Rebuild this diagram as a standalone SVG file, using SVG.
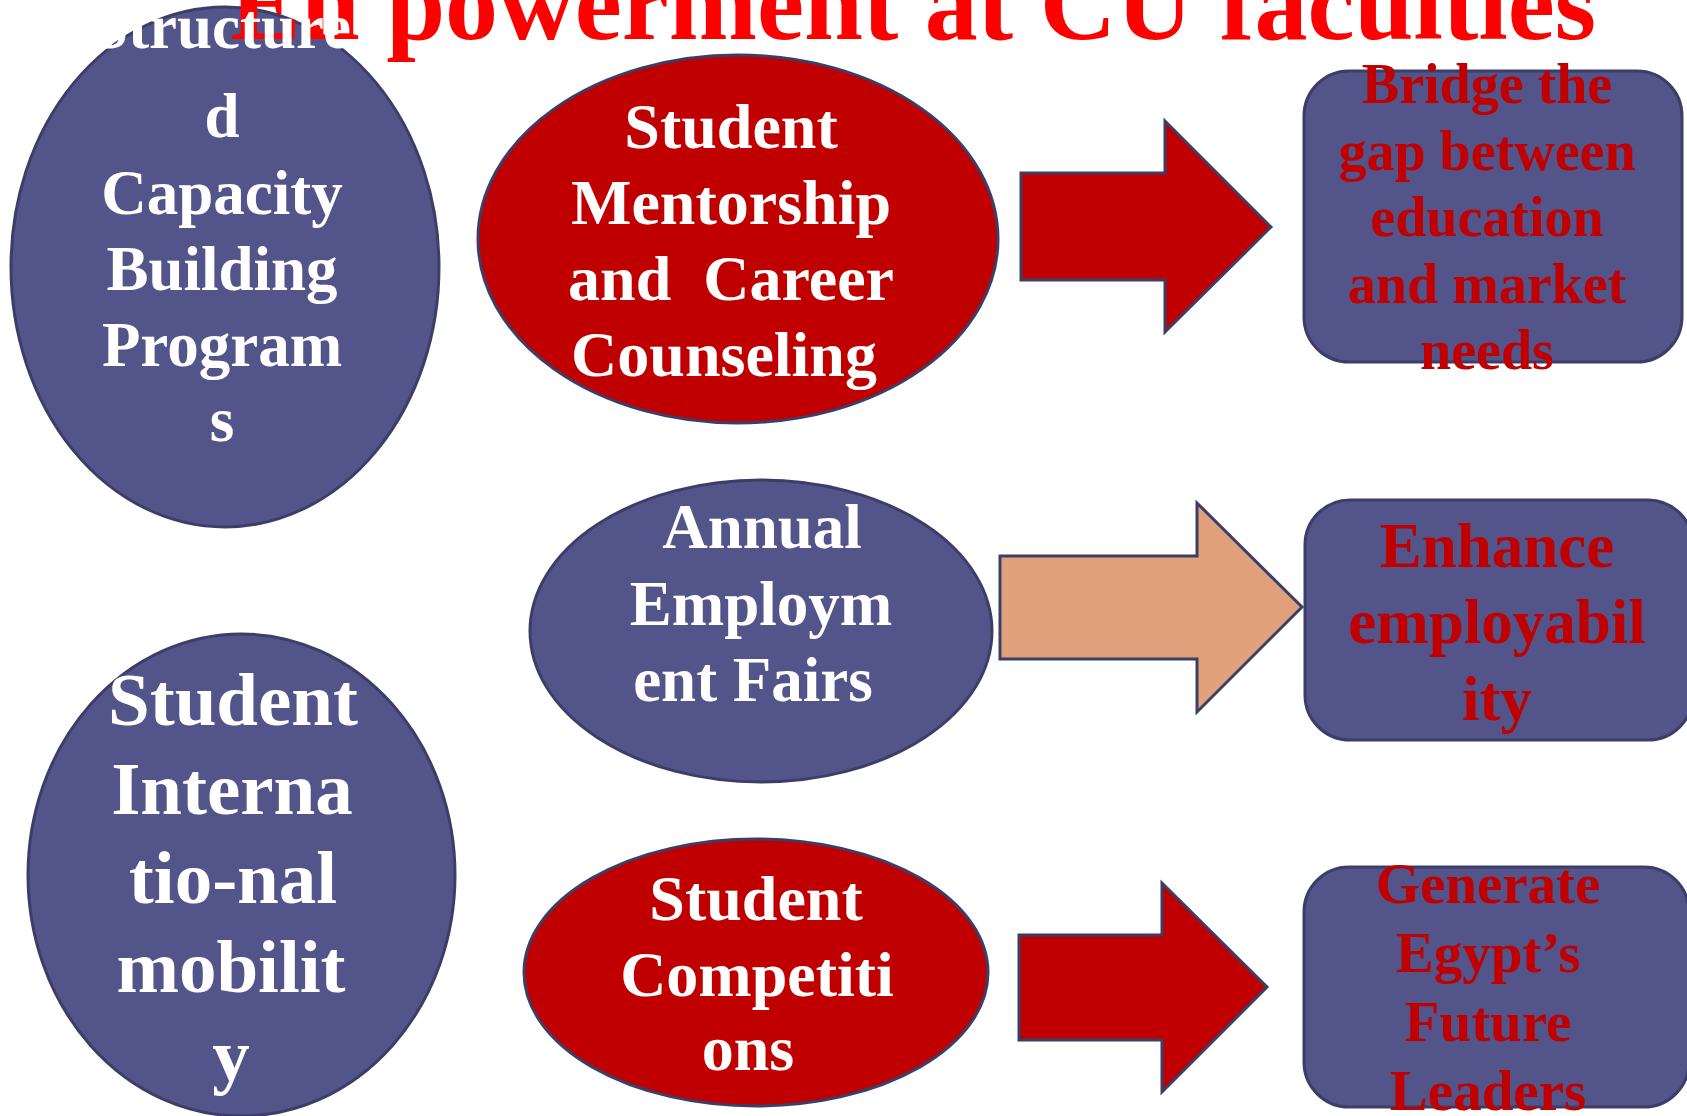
<svg xmlns="http://www.w3.org/2000/svg" width="1687" height="1116" viewBox="0 0 1687 1116">
<style>
.bl{fill:#52548A;stroke:#3C3E68;stroke-width:3}
.rd{fill:#C00000;stroke:#3C3E68;stroke-width:3}
.tn{fill:#E0A07C;stroke:#3C3E68;stroke-width:3}
.t{font-family:"Liberation Serif","Times New Roman",serif;font-weight:bold;text-anchor:middle}
.w{fill:#FFFFFF}
.r{fill:#C00000}
</style>
<rect x="0" y="0" width="1687" height="1116" fill="#FFFFFF"/>
<g id="node-structured">
<ellipse class="bl" cx="225" cy="267" rx="214" ry="260"/>
</g>
<g id="title">
<text x="230" y="39" font-family="Liberation Serif, Times New Roman, serif" font-weight="bold" font-size="106" fill="#FF0000">En powerment at CU faculties</text>
</g>
<g id="node-structured-label" class="t w" font-size="63">
<text x="222" y="48">Structure</text>
<text x="222" y="137">d</text>
<text x="222" y="214">Capacity</text>
<text x="222" y="290">Building</text>
<text x="222" y="366">Program</text>
<text x="222" y="441">s</text>
</g>
<g id="node-mentorship">
<ellipse class="rd" cx="738" cy="239" rx="260" ry="184"/>
<g class="t w" font-size="64">
<text x="731" y="148">Student</text>
<text x="731" y="224">Mentorship</text>
<text x="731" y="300">and&#160; Career</text>
<text x="724" y="376">Counseling</text>
</g>
</g>
<g id="node-fairs">
<ellipse class="bl" cx="761" cy="631" rx="231" ry="151"/>
<g class="t w" font-size="63">
<text x="762" y="548">Annual</text>
<text x="761" y="625">Employm</text>
<text x="753" y="701">ent Fairs</text>
</g>
</g>
<g id="node-mobility">
<ellipse class="bl" cx="241.5" cy="875" rx="213.5" ry="241"/>
<g class="t w" font-size="75">
<text x="233" y="725">Student</text>
<text x="232" y="814">Interna</text>
<text x="233" y="903">tio-nal</text>
<text x="231" y="992">mobilit</text>
<text x="231" y="1080">y</text>
</g>
</g>
<g id="node-competitions">
<ellipse class="rd" cx="756" cy="972.5" rx="232" ry="133.5"/>
<g class="t w" font-size="64">
<text x="756" y="920">Student</text>
<text x="757" y="996">Competiti</text>
<text x="748" y="1070">ons</text>
</g>
</g>
<g id="node-bridge">
<rect class="bl" x="1304" y="71" width="378" height="291" rx="45" ry="45"/>
<g class="t r" font-size="56">
<text x="1487" y="103">Bridge the</text>
<text x="1487" y="170">gap between</text>
<text x="1487" y="236">education</text>
<text x="1487" y="303">and market</text>
<text x="1487" y="369">needs</text>
</g>
</g>
<g id="node-employability">
<rect class="bl" x="1305" y="500" width="388" height="240" rx="45" ry="45"/>
<g class="t r" font-size="63">
<text x="1497" y="567">Enhance</text>
<text x="1497" y="643">employabil</text>
<text x="1497" y="720">ity</text>
</g>
</g>
<g id="node-leaders">
<rect class="bl" x="1304" y="867" width="385" height="240" rx="45" ry="45"/>
<g class="t r" font-size="57">
<text x="1488" y="903">Generate</text>
<text x="1488" y="972">Egypt’s</text>
<text x="1488" y="1041">Future</text>
<text x="1488" y="1110">Leaders</text>
</g>
</g>
<g id="connectors">
<polygon class="rd" points="1021,173 1165,173 1165,121 1271,227 1165,332 1165,280 1021,280"/>
<polygon class="tn" points="1000,556 1197,556 1197,503 1302,607 1197,712 1197,659 1000,659"/>
<polygon class="rd" points="1019,935 1162,935 1162,883 1267,987 1162,1092 1162,1040 1019,1040"/>
</g>
</svg>
